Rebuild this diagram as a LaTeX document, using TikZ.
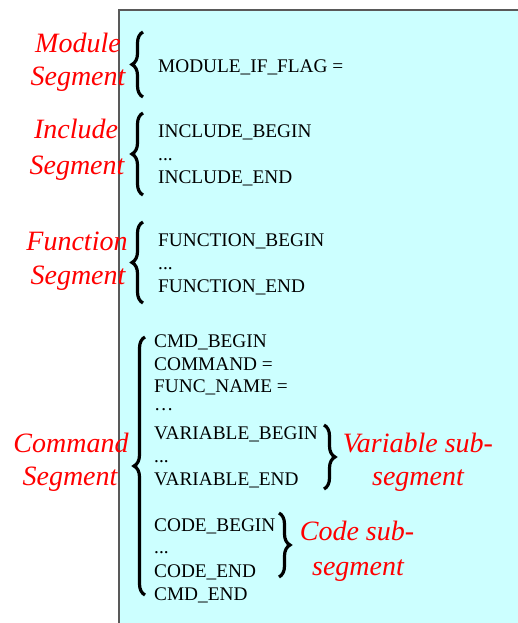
\documentclass[tikz,border=0pt]{standalone}
\usepackage{fontspec}
\setmainfont{Liberation Serif}
\usetikzlibrary{decorations.pathreplacing}
\definecolor{panel}{RGB}{204,255,255}

\begin{document}
\begin{tikzpicture}[x=1pt,y=-1pt,
  field/.style={anchor=base west,inner sep=0pt,font=\fontsize{19.3}{22}\selectfont},
  seglabel/.style={anchor=base,inner sep=0pt,text=red,font=\fontsize{28}{33}\selectfont\itshape},
  curly/.style={decorate,decoration={brace,amplitude=11pt},line width=3.2pt}]
\useasboundingbox (0,0) rectangle (517,623);
\filldraw[fill=panel,draw=black!65,line width=1.5pt] (119,10) rectangle (540,650);

% module segment
\node[field] (modflag) at (158,73) {MODULE\_IF\_FLAG =};
\node[seglabel] (modA) at (78,53) {Module};
\node[seglabel] (modB) at (78,86) {Segment};
\coordinate (modtop) at (143,32);
\coordinate (modbot) at (143,97);
\draw[curly] (modbot) -- (modtop);

% include segment
\node[field] (incbegin) at (158,137) {INCLUDE\_BEGIN};
\node[field] (incdots) at (158,160) {...};
\node[field] (incend) at (158,183) {INCLUDE\_END};
\node[seglabel] (incA) at (76,138) {Include};
\node[seglabel] (incB) at (77,174) {Segment};
\coordinate (inctop) at (143,113);
\coordinate (incbot) at (143,195);
\draw[curly] (incbot) -- (inctop);

% function segment
\node[field] (funbegin) at (158,246) {FUNCTION\_BEGIN};
\node[field] (fundots) at (158,269) {...};
\node[field] (funend) at (158,292) {FUNCTION\_END};
\node[seglabel] (funA) at (77,250) {Function};
\node[seglabel] (funB) at (78,284) {Segment};
\coordinate (funtop) at (143,222);
\coordinate (funbot) at (143,303);
\draw[curly] (funbot) -- (funtop);

% command segment
\node[field] (cmdbegin) at (154,347) {CMD\_BEGIN};
\node[field] (command) at (154,370) {COMMAND =};
\node[field] (funcname) at (154,392) {FUNC\_NAME =};
\node[field] (cmddots) at (154,410) {…};
\node[field] (varbegin) at (154,439) {VARIABLE\_BEGIN};
\node[field] (vardots) at (154,462) {...};
\node[field] (varend) at (154,485) {VARIABLE\_END};
\node[field] (codebegin) at (154,531) {CODE\_BEGIN};
\node[field] (codedots) at (154,553) {...};
\node[field] (codeend) at (154,577) {CODE\_END};
\node[field] (cmdend) at (154,600) {CMD\_END};
\node[seglabel] (cmdA) at (71,452) {Command};
\node[seglabel] (cmdB) at (70,485) {Segment};
\coordinate (cmdtop) at (145,337);
\coordinate (cmdbot) at (145,595);
\draw[curly] (cmdbot) -- (cmdtop);

% variable sub-segment
\coordinate (vartop) at (324,425);
\coordinate (varbot) at (324,489);
\draw[curly] (vartop) -- (varbot);
\node[seglabel] (varA) at (418,452) {Variable sub-};
\node[seglabel] (varB) at (418,485) {segment};

% code sub-segment
\coordinate (codetop) at (279,513);
\coordinate (codebot) at (279,577);
\draw[curly] (codetop) -- (codebot);
\node[seglabel] (codeA) at (357,540) {Code sub-};
\node[seglabel] (codeB) at (358,575) {segment};
\end{tikzpicture}
\end{document}
